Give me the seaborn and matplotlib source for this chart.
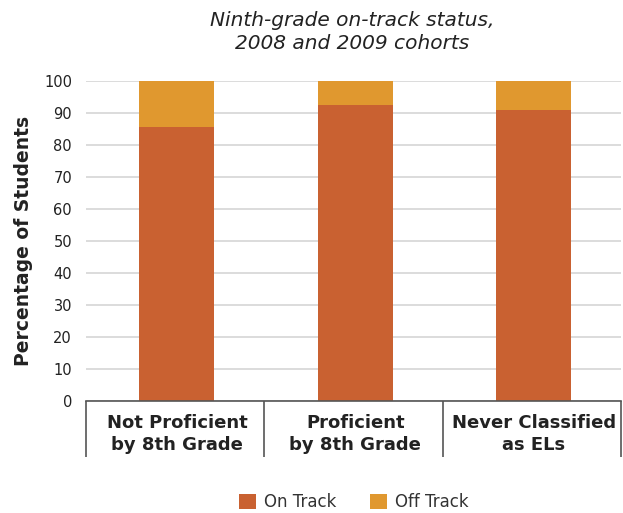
import seaborn as sns
import matplotlib.pyplot as plt
import pandas as pd

categories = ["Not Proficient\nby 8th Grade", "Proficient\nby 8th Grade", "Never Classified\nas ELs"]
on_track = [85.7, 92.6, 90.9]
off_track = [14.3, 7.4, 9.1]

on_color = "#C96131"
off_color = "#E0982F"

df = pd.DataFrame({"group": categories, "on": on_track, "off": off_track})
df["total"] = df["on"] + df["off"]

sns.set_style("white")
plt.rcParams['font.family'] = ['DejaVu Sans']

fig = plt.figure(figsize=(6.23, 5.13), dpi=100)
ax = fig.add_axes([0.138, 0.218, 0.859, 0.624])

sns.barplot(data=df, x="group", y="total", color=off_color, width=0.42, ax=ax,
            saturation=1, label="Off Track", linewidth=0)
sns.barplot(data=df, x="group", y="on", color=on_color, width=0.42, ax=ax,
            saturation=1, label="On Track", linewidth=0)
if ax.get_legend() is not None:
    ax.get_legend().remove()

ax.set_ylim(0, 100)
ax.set_xlim(-0.51, 2.49)
ax.set_yticks(range(0, 101, 10))
ax.yaxis.grid(True, color="#d6d6d6", linewidth=1.2)
ax.set_axisbelow(True)
for s in ["top", "right", "left"]:
    ax.spines[s].set_visible(False)
ax.spines["bottom"].set_color("#555555")
ax.spines["bottom"].set_linewidth(1.2)

ax.tick_params(axis="y", length=0, labelsize=10.5, labelcolor="#222222", pad=10)
ax.tick_params(axis="x", which="major", length=0, labelsize=13, pad=9, labelcolor="#222222")
ax.set_xticks([-0.51, 0.49, 1.49, 2.49], minor=True)
ax.tick_params(axis="x", which="minor", bottom=True, length=40, width=1.2,
               color="#555555", direction="out")
for lbl in ax.get_xticklabels():
    lbl.set_fontweight("semibold")
    lbl.set_linespacing(1.3)

ax.set_xlabel("")
ax.set_ylabel("Percentage of Students", fontsize=13.5, fontweight="semibold", color="#222222", labelpad=8)

fig.suptitle("Ninth-grade on-track status,\n2008 and 2009 cohorts", x=0.565, y=0.978,
             fontsize=14.5, style="italic", color="#222222", linespacing=1.25)

handles, labels = ax.get_legend_handles_labels()
order = [labels.index("On Track"), labels.index("Off Track")]
fig.legend([handles[i] for i in order], [labels[i] for i in order], loc="lower center",
           bbox_to_anchor=(0.568, -0.025), ncol=2, frameon=False, fontsize=12,
           handlelength=1.0, handleheight=1.0, columnspacing=2.0, handletextpad=0.5,
           labelcolor="#333333")

fig.savefig("out.png", dpi=100)
